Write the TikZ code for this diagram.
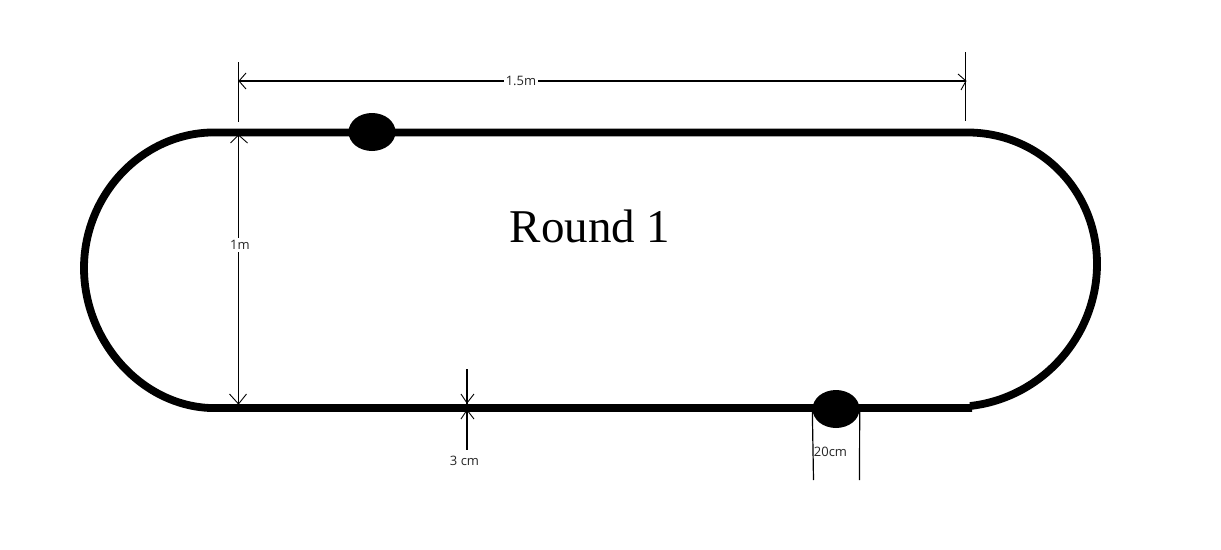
\documentclass[tikz,border=0pt]{standalone}
\usepackage{fontspec}
\setmainfont{Liberation Serif}
\newfontfamily\labelfont{Open Sans}
\tikzset{
  x=1pt,y=-1pt,
  track/.style={line width=7.8pt,black},
  thin line/.style={line width=1.2pt,black},
  tick/.style={line width=0.9pt,black},
  blob/.style={ellipse,fill=black,inner sep=0pt,minimum width=47pt,minimum height=38pt},
  dim/.style={font=\labelfont\fontsize{13}{15}\selectfont,fill=white,inner sep=2pt,text=black!85}
}
\usetikzlibrary{shapes.geometric}
\begin{document}
\begin{tikzpicture}
\useasboundingbox (0,0) rectangle (1221,549);
\fill[white] (0,0) rectangle (1221,549);
% track
\draw[track] (210,132.5) -- (970,132.5)
  .. controls (1042,134) and (1097,192) .. (1097,264)
  .. controls (1097,336) and (1042,398) .. (970,406);
\draw[track] (972,408) -- (210,408)
  .. controls (140,405) and (84,340) .. (84,268)
  .. controls (84,196) and (140,135) .. (210,132.5);
% blobs
\node[blob] (b1) at (372,132) {};
\node[blob] (b2) at (836,409) {};
% named end points
\coordinate (wl1) at (238.5,62);
\coordinate (wl2) at (238.5,122);
\coordinate (wr1) at (965.5,52);
\coordinate (wr2) at (965.5,121);
\coordinate (al) at (239,81);
\coordinate (ar) at (966,81);
\coordinate (ht) at (238.5,135);
\coordinate (hb) at (238.5,404);
\coordinate (c1) at (467,369);
\coordinate (c2) at (467,408);
\coordinate (c3) at (467,450);
\coordinate (sl) at (813.5,480);
\coordinate (sr) at (859.5,480);
% width dimension
\draw[thin line] (wl1) -- (wl2);
\draw[thin line] (wr1) -- (wr2);
\draw[thin line] (al) -- (ar);
\draw[tick] (al) ++(7,-8) -- (al) -- ++(7,8);
\draw[tick] (ar) ++(-8,-7) -- (ar) -- ++(-5,9);
\node[dim] (wlab) at (521,80.5) {1.5m};
% height dimension
\draw[thin line] (ht) -- (hb);
\draw[tick] (ht) ++(-8,8) -- (ht) -- ++(9,8);
\draw[tick] (hb) ++(-9,-10) -- (hb) -- ++(8,-10);
\node[dim] (hlab) at (240,245) {1m};
% thickness dimension
\draw[thin line] (c1) -- (c2);
\draw[thin line] (c2) -- (c3);
\draw[tick] (467,403) ++(-6,-9) -- ++(6,9) -- ++(7,-9);
\draw[tick] (467,410) ++(-6,9) -- ++(6,-9) -- ++(7,9);
\node[dim,fill=none] (clab) at (464.5,460.5) {3 cm};
% blob width
\draw[thin line] (sl) -- (b2.west |- 0,409) (sr) -- (b2.east |- 0,409);
\node[dim,fill=none] (slab) at (830.5,451.5) {20cm};
% title
\node[font=\fontsize{47}{52}\selectfont,inner sep=0pt] (title) at (590,226) {Round 1};
\end{tikzpicture}
\end{document}
